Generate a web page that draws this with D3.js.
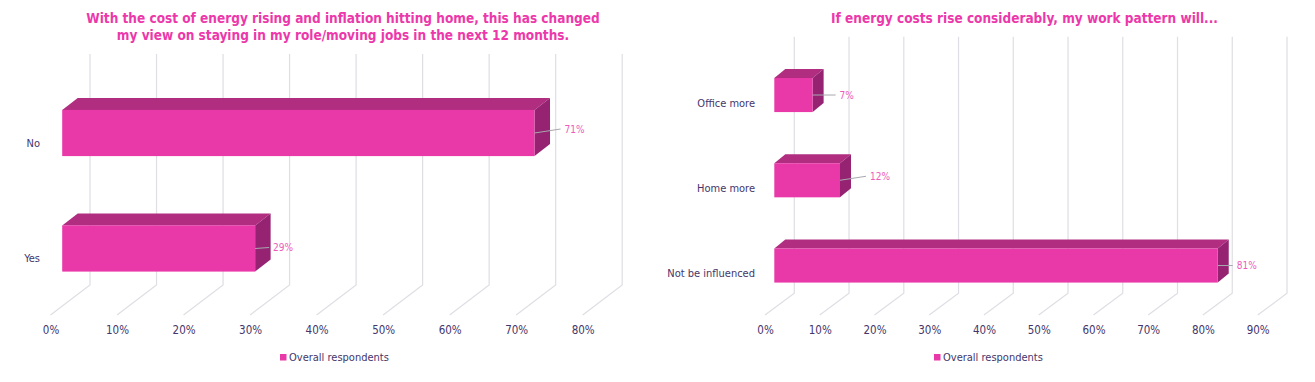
<!DOCTYPE html>
<html>
<head>
<meta charset="utf-8">
<script src="https://cdnjs.cloudflare.com/ajax/libs/d3/7.8.5/d3.min.js"></script>
<style>
  html, body { margin: 0; padding: 0; background: #fff; }
  svg { display: block; }
  text { font-family: "DejaVu Sans Condensed", "DejaVu Sans", sans-serif; }
</style>
</head>
<body>
<svg id="chart" width="1315" height="382"></svg>
<script>
const seriesName = "Overall respondents"

const roleTitle = [
  "With the cost of energy rising and inflation hitting home, this has changed",
  "my view on staying in my role/moving jobs in the next 12 months."
]
const roleCategories = ["No", "Yes"]
const roleValues = [71, 29]
const roleTicks = [0, 10, 20, 30, 40, 50, 60, 70, 80]

const patternTitle = ["If energy costs rise considerably, my work pattern will..."]
const patternCategories = ["Office more", "Home more", "Not be influenced"]
const patternValues = [7, 12, 81]
const patternTicks = [0, 10, 20, 30, 40, 50, 60, 70, 80, 90]

const colors = {
  front: "#e939a8",
  top: "#b02d80",
  side: "#952372",
  title: "#ec38aa",
  text: "#44366b",
  label: "#ee5cba",
  grid: "#dedee4",
  leader: "#a8a8ae"
}

const svg = d3.select("#chart")

function drawChart(opts) {
  const g = svg.append("g")

  const x = d3.scaleLinear()
    .domain([0, opts.ticks[opts.ticks.length - 1]])
    .range(opts.xRange)

  const y = d3.scaleBand()
    .domain(opts.categories)
    .range(opts.yRange)
    .paddingInner(0.6)
    .paddingOuter(0.3)

  // 3d walls: a diagonal on the floor, then straight up the back
  g.append("g").attr("class", "grid")
    .selectAll("polyline")
    .data(opts.ticks)
    .join("polyline")
    .attr("points", d => {
      const px = x(d)
      return [
        [px, opts.floorY],
        [px + opts.wall.dx, opts.floorY + opts.wall.dy],
        [px + opts.wall.dx, opts.topY]
      ].join(" ")
    })
    .attr("fill", "none")
    .attr("stroke", colors.grid)
    .attr("stroke-width", 1.2)

  const rows = opts.categories.map((name, i) => ({ name, value: opts.values[i], leader: opts.leaders[i] }))

  const bar = g.append("g").attr("class", "bars")
    .selectAll("g")
    .data(rows)
    .join("g")

  const left = x(0) + opts.barInset
  const right = d => x(d.value) + opts.barInset

  bar.append("path")
    .attr("d", d => {
      const y0 = y(d.name)
      return `M${left},${y0}l${opts.depth.dx},${opts.depth.dy}L${right(d) + opts.depth.dx},${y0 + opts.depth.dy}L${right(d)},${y0}Z`
    })
    .attr("fill", colors.top)

  bar.append("path")
    .attr("d", d => {
      const y0 = y(d.name)
      const xr = right(d)
      return `M${xr},${y0}l${opts.depth.dx},${opts.depth.dy}v${y.bandwidth()}l${-opts.depth.dx},${-opts.depth.dy}Z`
    })
    .attr("fill", colors.side)

  bar.append("rect")
    .attr("x", left)
    .attr("y", d => y(d.name))
    .attr("width", d => right(d) - left)
    .attr("height", y.bandwidth())
    .attr("fill", colors.front)

  // leader line from the bar end to its label
  bar.append("line")
    .attr("x1", d => right(d))
    .attr("y1", d => y(d.name) + y.bandwidth() / 2)
    .attr("x2", d => right(d) + d.leader[0])
    .attr("y2", d => y(d.name) + y.bandwidth() / 2 + d.leader[1])
    .attr("stroke", colors.leader)
    .attr("stroke-width", 1)

  bar.append("text")
    .attr("x", d => right(d) + d.leader[0] + 4)
    .attr("y", d => y(d.name) + y.bandwidth() / 2 + d.leader[1])
    .attr("dy", "0.35em")
    .attr("font-size", 10)
    .attr("fill", colors.label)
    .text(d => d.value + "%")

  g.append("g").attr("class", "categories")
    .selectAll("text")
    .data(opts.categories)
    .join("text")
    .attr("x", opts.categoryX)
    .attr("y", d => y(d) + y.bandwidth() / 2 + opts.categoryDy)
    .attr("dy", "0.35em")
    .attr("text-anchor", "end")
    .attr("font-size", 11)
    .attr("fill", colors.text)
    .text(d => d)

  const axis = g.append("g")
    .attr("transform", `translate(0,${opts.axisY})`)
    .call(d3.axisBottom(x).tickValues(opts.ticks).tickSize(0).tickFormat(d => d + "%"))
  axis.select(".domain").remove()
  axis.selectAll("text")
    .attr("font-size", 11.5)
    .attr("fill", colors.text)

  g.append("text")
    .attr("text-anchor", "middle")
    .attr("font-size", opts.titleSize)
    .attr("font-weight", "bold")
    .attr("fill", colors.title)
    .selectAll("tspan")
    .data(opts.title)
    .join("tspan")
    .attr("x", opts.titleX)
    .attr("y", (d, i) => opts.titleY + i * 17)
    .text(d => d)

  g.append("rect")
    .attr("x", opts.legendX)
    .attr("y", 354)
    .attr("width", 6.5)
    .attr("height", 6.5)
    .attr("fill", colors.front)
  g.append("text")
    .attr("x", opts.legendX + 9)
    .attr("y", 357.5)
    .attr("dy", "0.35em")
    .attr("font-size", 11)
    .attr("fill", colors.text)
    .text(seriesName)
}

drawChart({
  title: roleTitle,
  categories: roleCategories,
  values: roleValues,
  ticks: roleTicks,
  xRange: [50.5, 582.7],
  yRange: [75.25, 306.25],
  floorY: 315,
  topY: 54,
  axisY: 323,
  wall: { dx: 39.5, dy: -30 },
  depth: { dx: 15.5, dy: -12 },
  barInset: 11.7,
  leaders: [[26, -4], [14, -1]],
  categoryX: 40,
  categoryDy: 10,
  titleSize: 13.5,
  titleX: 343,
  titleY: 23,
  legendX: 280
})

drawChart({
  title: patternTitle,
  categories: patternCategories,
  values: patternValues,
  ticks: patternTicks,
  xRange: [765, 1257.7],
  yRange: [52.4, 308.15],
  floorY: 315,
  topY: 36.7,
  axisY: 323,
  wall: { dx: 29.3, dy: -21.7 },
  depth: { dx: 11, dy: -9 },
  barInset: 9.3,
  leaders: [[23, 0], [26, -4], [15, 0]],
  categoryX: 755,
  categoryDy: 7.8,
  titleSize: 13.5,
  titleX: 1024.5,
  titleY: 23,
  legendX: 934
})
</script>
</body>
</html>
